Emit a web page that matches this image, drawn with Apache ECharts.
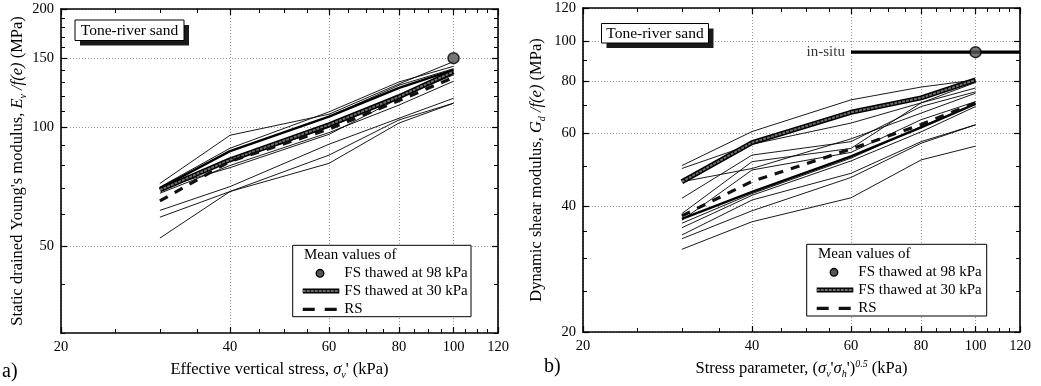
<!DOCTYPE html>
<html><head><meta charset="utf-8">
<script src="https://cdn.jsdelivr.net/npm/echarts@6/dist/echarts.min.js"></script>
<style>html,body{margin:0;padding:0;background:#fff}#c{width:1041px;height:386px}</style>
</head><body><div id="c"></div><script>
// ---------- data ----------
const stress = [30, 40, 60, 80, 100];            // kPa (both panels)
// panel a: static drained Young's modulus Ev/f(e) (MPa)
const staticTests = [
  [72, 95.5, 108, 129, 147],
  [70.5, 88.5, 109.5, 130.5, 143],
  [70, 87, 106.5, 128, 141],
  [69, 82, 100, 119, 136],
  [68, 80, 97, 114, 131],
  [70, 79, 96, 118.5, 139],
  [61.5, 70.7, 90.6, 105.5, 118.6],
  [59.1, 68.7, 85, 104.5, 115.2],
  [52.3, 68.7, 81, 102.6, 115.2]
];
const staticBold = [70, 87, 106.5, 126, 140];
const staticFS30 = [69.3, 82.7, 101.5, 119.7, 138.6];
const staticRS = [65, 82, 99, 117, 134];
const staticFS98 = [100, 150];
// panel b: dynamic shear modulus Gd/f(e) (MPa)
const dynamicTests = [
  [50.2, 60.6, 72.2, 77.5, 80.6],
  [49.4, 56.5, 63.5, 71, 77.1],
  [45.9, 49.4, 58.2, 67.1, 74.9],
  [41.9, 53.2, 57.3, 69.6, 75.5],
  [38.5, 51.3, 55.2, 71, 79.5],
  [37.1, 49.0, 54.0, 64.7, 71.5],
  [36.5, 43.0, 52.3, 62.3, 70.6],
  [35.6, 42.6, 51.5, 60.5, 69.6],
  [34.2, 41.5, 48.1, 57.3, 62.9],
  [33.5, 39.1, 47.0, 56.8, 62.9],
  [31.6, 36.8, 42.0, 51.8, 55.9]
];
const dynamicBold = [37.4, 43.4, 52.8, 62, 70.6];
const dynamicFS30 = [45.9, 57.0, 67.4, 73, 80.6];
const dynamicRS = [38, 46, 55, 63, 71];
const dynamicFS98 = [100, 94];
const inSituX = [60, 100, 120];
const inSituG = 94;
// ticks
const majorX = [20, 40, 60, 80, 100, 120];
const minorX = [25, 30, 35, 45, 50, 55, 65, 70, 75, 85, 90, 95, 105, 110, 115];
const majorYA = [50, 100, 150, 200];
const minorYA = [30, 40, 60, 70, 80, 90, 110, 120, 130, 140, 160, 170, 180, 190];
const majorYB = [20, 40, 60, 80, 100, 120];
const minorYB = [25, 30, 35, 50, 70, 90];

// ---------- helpers ----------
const L = v => Math.log10(v);
const FONT = 'Liberation Serif';
const pts = (xs, ys) => xs.map((x, i) => [L(x), L(ys[i])]);
const richBase = {
  n: {fontFamily: FONT, fontSize: 16.5, color: '#000', lineHeight: 20, verticalAlign: 'middle'},
  i: {fontFamily: FONT, fontSize: 16.5, fontStyle: 'italic', color: '#000', lineHeight: 20, verticalAlign: 'middle'},
  sub: {fontFamily: FONT, fontSize: 10, fontStyle: 'italic', color: '#000', lineHeight: 20, verticalAlign: 'bottom'},
  sup: {fontFamily: FONT, fontSize: 10, fontStyle: 'italic', color: '#000', lineHeight: 20, verticalAlign: 'top'}
};

function mainAxis(gridIndex, pos, min, max, major, opts) {
  const labeled = (pos === 'bottom' || pos === 'left');
  const ax = {
    type: 'value', gridIndex, position: pos, min: L(min), max: L(max),
    axisLine: {show: true, onZero: false, lineStyle: {color: '#000', width: 1.6}},
    axisTick: {show: true, inside: true, length: 6, customValues: major.map(L), lineStyle: {color: '#000', width: 1.2}},
    axisLabel: {show: labeled, customValues: major.map(L), formatter: v => String(Math.round(Math.pow(10, v))),
      fontFamily: FONT, fontSize: 14.5, color: '#000', margin: 7},
    splitLine: {show: labeled, lineStyle: {color: '#888', width: 0.9, type: [1, 2]}}
  };
  return Object.assign(ax, opts || {});
}
function minorAxis(gridIndex, pos, min, max, minor) {
  return {
    type: 'value', gridIndex, position: pos, min: L(min), max: L(max),
    axisLine: {show: false, onZero: false},
    axisTick: {show: true, inside: true, length: 4, customValues: minor.map(L), lineStyle: {color: '#000', width: 1}},
    axisLabel: {show: false},
    splitLine: {show: false}
  };
}

const xAxis = [
  mainAxis(0, 'bottom', 20, 120, majorX, {name: '{n|Effective vertical stress, }{i|σ}{sub|v}{n|\' (kPa)}',
    nameLocation: 'middle', nameGap: 27, nameTextStyle: {rich: richBase}}),
  mainAxis(0, 'top', 20, 120, majorX),
  minorAxis(1, 'bottom', 20, 120, minorX),
  minorAxis(1, 'top', 20, 120, minorX),
  mainAxis(2, 'bottom', 20, 120, majorX, {name: '{n|Stress parameter, (}{i|σ}{sub|v}{n|\'}{i|σ}{sub|h}{n|\')}{sup|0.5}{n| (kPa)}',
    nameLocation: 'middle', nameGap: 25, nameTextStyle: {rich: richBase}}),
  mainAxis(2, 'top', 20, 120, majorX),
  minorAxis(3, 'bottom', 20, 120, minorX),
  minorAxis(3, 'top', 20, 120, minorX)
];
const yAxis = [
  mainAxis(0, 'left', 30, 200, majorYA, {name: '{n|Static drained Young\'s modulus, }{i|E}{sub|v}{i| /f(e)}{n| (MPa)}',
    nameLocation: 'middle', nameGap: 33, nameTextStyle: {rich: richBase}}),
  mainAxis(0, 'right', 30, 200, majorYA),
  minorAxis(1, 'left', 30, 200, minorYA),
  minorAxis(1, 'right', 30, 200, minorYA),
  mainAxis(2, 'left', 20, 120, majorYB, {name: '{n|Dynamic shear modulus, }{i|G}{sub|d}{i| /f(e)}{n| (MPa)}',
    nameLocation: 'middle', nameGap: 36, nameTextStyle: {rich: richBase}}),
  mainAxis(2, 'right', 20, 120, majorYB),
  minorAxis(3, 'left', 20, 120, minorYB),
  minorAxis(3, 'right', 20, 120, minorYB)
];

const series = [];
function thin(ax, ys) {
  series.push({type: 'line', xAxisIndex: ax, yAxisIndex: ax, data: pts(stress, ys), symbol: 'none',
    lineStyle: {color: '#000', width: 0.9}, silent: true, z: 2});
}
function bold(ax, ys) {
  series.push({type: 'line', xAxisIndex: ax, yAxisIndex: ax, data: pts(stress, ys), symbol: 'none',
    lineStyle: {color: '#000', width: 2.4}, silent: true, z: 3});
}
function hatched(ax, xs, ys) {
  series.push({type: 'line', xAxisIndex: ax, yAxisIndex: ax, data: pts(xs, ys), symbol: 'none',
    lineStyle: {color: '#000', width: 5}, silent: true, z: 4});
  series.push({type: 'line', xAxisIndex: ax, yAxisIndex: ax, data: pts(xs, ys), symbol: 'none',
    lineStyle: {color: '#6e6e6e', width: 2, type: [3, 1]}, silent: true, z: 5});
}
function dashed(ax, ys) {
  series.push({type: 'line', xAxisIndex: ax, yAxisIndex: ax, data: pts(stress, ys), symbol: 'none',
    lineStyle: {color: '#111', width: 3.2, type: [9, 8]}, silent: true, z: 6});
}
function circle(ax, p) {
  series.push({type: 'scatter', xAxisIndex: ax, yAxisIndex: ax, data: [[L(p[0]), L(p[1])]], symbolSize: 11,
    itemStyle: {color: '#555', borderColor: '#000', borderWidth: 1.5}, silent: true, z: 8});
}
staticTests.forEach(ys => thin(0, ys));
bold(0, staticBold);
hatched(0, stress, staticFS30);
dashed(0, staticRS);
circle(0, staticFS98);

dynamicTests.forEach(ys => thin(4, ys));
bold(4, dynamicBold);
hatched(4, stress, dynamicFS30);
dashed(4, dynamicRS);
// in-situ line
const inSituYs = inSituX.map(() => inSituG);
series.push({type: 'line', xAxisIndex: 4, yAxisIndex: 4, symbol: 'none', silent: true, z: 4,
  lineStyle: {color: '#000', width: 3.4}, data: pts(inSituX, inSituYs)});
series.push({type: 'scatter', xAxisIndex: 4, yAxisIndex: 4, silent: true, z: 9, symbolSize: 4,
  itemStyle: {color: 'rgba(0,0,0,0)'},
  label: {show: true, position: 'left', distance: 4, formatter: 'in-situ', fontFamily: FONT, fontSize: 15, color: '#000'},
  data: [[L(inSituX[0]), L(inSituG)]]});
circle(4, dynamicFS98);

// ---------- decorations: title boxes, legends, panel letters ----------
function titleBox(x, y, w, h) {
  return [
    {type: 'rect', shape: {x: x + 5, y: y + 5, width: w, height: h}, style: {fill: '#1a1a1a'}, z: 20},
    {type: 'rect', shape: {x: x, y: y, width: w, height: h}, style: {fill: '#fff', stroke: '#000', lineWidth: 1}, z: 21},
    {type: 'text', x: x + w / 2, y: y + h / 2 + 0.5, style: {text: 'Tone-river sand', fontFamily: FONT, fontSize: 15.5,
      fill: '#000', align: 'center', verticalAlign: 'middle'}, z: 22}
  ];
}
function legendBox(x, y, w, h) {
  const tx = x + 51.6, ix = x + 10, row = [y + 28, y + 45.7, y + 64];
  const t = (s, xx, yy) => ({type: 'text', x: xx, y: yy, style: {text: s, fontFamily: FONT, fontSize: 15, fill: '#000',
    align: 'left', verticalAlign: 'middle'}, z: 22});
  return [
    {type: 'rect', shape: {x, y, width: w, height: h}, style: {fill: '#fff', stroke: '#000', lineWidth: 1}, z: 20},
    t('Mean values of', x + 11.3, y + 10),
    {type: 'circle', shape: {cx: x + 27.3, cy: row[0], r: 3.8}, style: {fill: '#555', stroke: '#000', lineWidth: 1.3}, z: 22},
    t('FS thawed at 98 kPa', tx, row[0]),
    {type: 'line', shape: {x1: ix, y1: row[1], x2: ix + 36.6, y2: row[1]}, style: {stroke: '#000', lineWidth: 5}, z: 21},
    {type: 'line', shape: {x1: ix, y1: row[1], x2: ix + 36.6, y2: row[1]}, style: {stroke: '#6e6e6e', lineWidth: 2, lineDash: [3, 1]}, z: 22},
    t('FS thawed at 30 kPa', tx, row[1]),
    {type: 'line', shape: {x1: ix, y1: row[2], x2: ix + 36.6, y2: row[2]}, style: {stroke: '#111', lineWidth: 3.2, lineDash: [12, 10]}, z: 22},
    t('RS', tx, row[2])
  ];
}
const graphic = [].concat(
  titleBox(75, 20, 109, 20.5),
  titleBox(601.5, 23.5, 107, 19.5),
  legendBox(292.7, 245.3, 178.3, 71.4),
  legendBox(806.7, 244.3, 180, 71.7),
  [
    {type: 'text', x: 2, y: 372, style: {text: 'a)', fontFamily: FONT, fontSize: 20, fill: '#000', verticalAlign: 'middle'}},
    {type: 'text', x: 544, y: 367, style: {text: 'b)', fontFamily: FONT, fontSize: 20, fill: '#000', verticalAlign: 'middle'}}
  ]
);

const chart = echarts.init(document.getElementById('c'), null, {renderer: 'canvas'});
chart.setOption({
  animation: false,
  backgroundColor: '#fff',
  grid: [
    {left: 61, top: 9, width: 437, height: 324},
    {left: 61, top: 9, width: 437, height: 324},
    {left: 583, top: 8, width: 437, height: 324},
    {left: 583, top: 8, width: 437, height: 324}
  ],
  xAxis, yAxis, series, graphic
});
</script></body></html>
